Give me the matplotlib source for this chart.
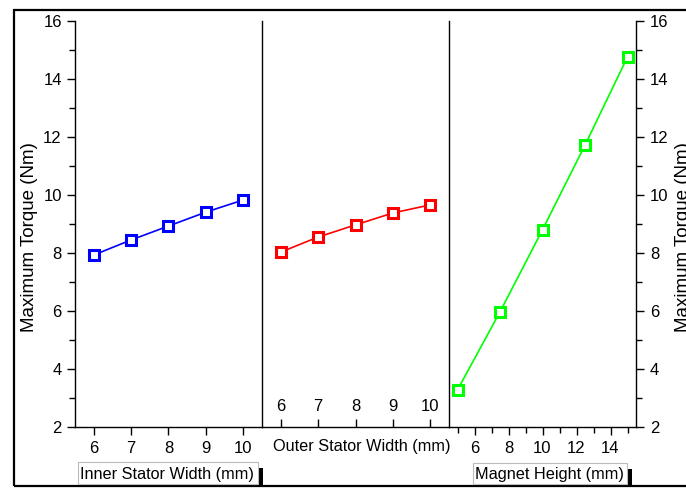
import numpy as np
import matplotlib
matplotlib.use('Agg')
import matplotlib.pyplot as plt
from matplotlib.patches import Rectangle
from matplotlib.ticker import MultipleLocator

plt.rcParams['font.family'] = ['Liberation Sans', 'DejaVu Sans']

# data
inner_width = [6, 7, 8, 9, 10]
inner_torque = [7.93, 8.45, 8.93, 9.41, 9.83]
outer_width = [6, 7, 8, 9, 10]
outer_torque = [8.03, 8.55, 8.97, 9.38, 9.66]
magnet_height = [5, 7.5, 10, 12.5, 15]
magnet_torque = [3.28, 5.97, 8.8, 11.72, 14.76]

W, H = 686, 488
fig = plt.figure(figsize=(W / 100, H / 100), dpi=100)


def fx(px):
    return px / W


def fy(py):
    return 1 - py / H


# outer frame
fig.patches.append(Rectangle((fx(14), fy(486)), 1.2, fy(10) - fy(486),
                             transform=fig.transFigure, fill=False,
                             edgecolor='black', linewidth=1.6))

left, right, top, bottom = 75, 636, 21, 427
pw = (right - left) / 3
axes = []
for i in range(3):
    ax = fig.add_axes([fx(left + i * pw), fy(bottom), fx(pw), fy(top) - fy(bottom)])
    ax.set_ylim(2, 16)
    ax.patch.set_visible(False)
    ax.spines['top'].set_visible(False)
    for s in ax.spines.values():
        s.set_linewidth(1.0)
    ax.tick_params(labelsize=12, width=1.0, length=6)
    ax.tick_params(which='minor', width=1.0, length=4)
    axes.append(ax)

mk = dict(marker='s', markersize=7, markerfacecolor='white', markeredgewidth=2.2, linewidth=1.2)

# panel 1: inner stator width
ax1 = axes[0]
ax1.plot(inner_width, inner_torque, color='#0000ff', markeredgecolor='#0000ff', **mk)
ax1.set_xlim(5.5, 10.5)
ax1.set_xticks([6, 7, 8, 9, 10])
ax1.yaxis.set_major_locator(MultipleLocator(2))
ax1.yaxis.set_minor_locator(MultipleLocator(1))
ax1.tick_params(axis='both', direction='out')
ax1.tick_params(axis='y', which='both', right=False)
ax1.tick_params(axis='x', pad=4)

# panel 2: outer stator width
ax2 = axes[1]
ax2.plot(outer_width, outer_torque, color='#ff0000', markeredgecolor='#ff0000', **mk)
ax2.set_xlim(5.5, 10.5)
ax2.set_xticks([6, 7, 8, 9, 10])
ax2.tick_params(axis='x', direction='in', pad=-20)
ax2.tick_params(axis='y', which='both', left=False, right=False,
                labelleft=False, labelright=False)
ax2.spines['left'].set_visible(False)
ax2.spines['right'].set_visible(False)

# panel 3: magnet height
ax3 = axes[2]
ax3.plot(magnet_height, magnet_torque, color='#00ff00', markeredgecolor='#00ff00', **mk)
ax3.set_xlim(4.5, 15.5)
ax3.set_xticks([6, 8, 10, 12, 14])
ax3.set_xticks([5, 7, 9, 11, 13, 15], minor=True)
ax3.yaxis.tick_right()
ax3.yaxis.set_major_locator(MultipleLocator(2))
ax3.yaxis.set_minor_locator(MultipleLocator(1))
ax3.tick_params(axis='both', which='both', direction='out')
ax3.tick_params(axis='x', pad=4)
ax3.tick_params(axis='y', pad=4)

# axis titles
fig.text(fx(30), fy(237), 'Maximum Torque (Nm)', rotation=90, fontsize=13.5,
         ha='center', va='center')
fig.text(fx(684), fy(237), 'Maximum Torque (Nm)', rotation=90, fontsize=13.5,
         ha='center', va='center')
fig.text(fx(362), fy(446), 'Outer Stator Width (mm)', fontsize=11.7,
         ha='center', va='center')

# boxed labels with shadow
for (x0, x1, y0, y1, label) in [(78, 258, 462, 484, 'Inner Stator Width (mm)'),
                                (473, 627, 463, 484, 'Magnet Height (mm)')]:
    fig.patches.append(Rectangle((fx(x0 + 5), fy(y1 + 3)), fx(x1 - x0), fy(y0 + 6) - fy(y1 + 3),
                                 transform=fig.transFigure, facecolor='black',
                                 edgecolor='none'))
    fig.patches.append(Rectangle((fx(x0), fy(y1)), fx(x1 - x0), fy(y0) - fy(y1),
                                 transform=fig.transFigure, facecolor='white',
                                 edgecolor='#bbbbbb', linewidth=0.8))
    fig.text(fx(x0 + 2), fy((y0 + y1) / 2 + 1), label, fontsize=11.7, ha='left', va='center')

fig.savefig('out.png', dpi=100)
